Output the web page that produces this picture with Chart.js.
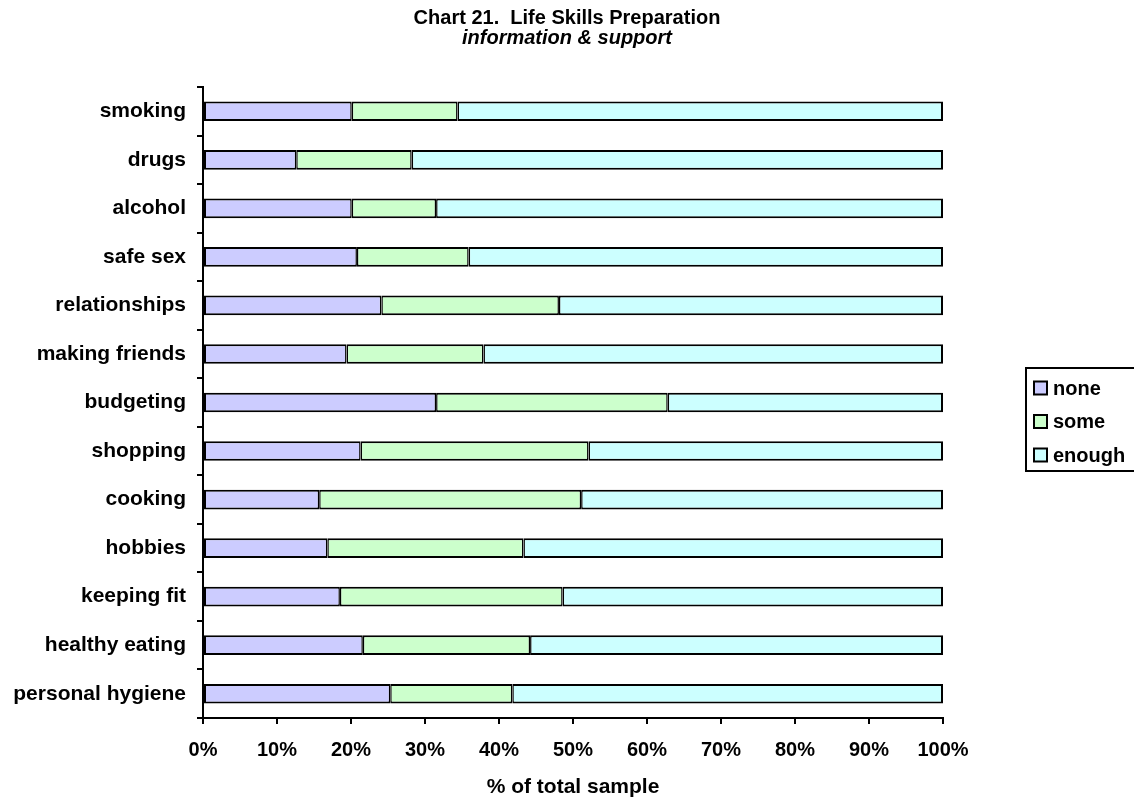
<!DOCTYPE html>
<html>
<head>
<meta charset="utf-8">
<script src="https://cdn.jsdelivr.net/npm/chart.js@4.4.1/dist/chart.umd.min.js"></script>
<style>
  html, body { margin: 0; padding: 0; background: #ffffff; }
  #wrap { width: 1134px; height: 798px; }
</style>
</head>
<body>
<div id="wrap"><canvas id="chart" width="1134" height="798"></canvas></div>
<script>
const categories = [
  'smoking', 'drugs', 'alcohol', 'safe sex', 'relationships', 'making friends',
  'budgeting', 'shopping', 'cooking', 'hobbies', 'keeping fit',
  'healthy eating', 'personal hygiene',
];
const seriesNames = ['none', 'some', 'enough'];
const noneValues = [20.1, 12.6, 20.1, 20.8, 24.1, 19.4, 31.5, 21.3, 15.7, 16.8, 18.5, 21.6, 25.3];
const someValues = [14.3, 15.6, 11.4, 15.1, 24.0, 18.5, 31.3, 30.8, 35.4, 26.5, 30.1, 22.6, 16.5];
const enoughValues = [65.6, 71.8, 68.5, 64.1, 51.9, 62.1, 37.2, 47.9, 48.9, 56.7, 51.4, 55.8, 58.2];
const xTicks = [0, 10, 20, 30, 40, 50, 60, 70, 80, 90, 100];

const colours = ['#ccccff', '#ccffcc', '#ccffff'];
const FONT = 'Arial, "Liberation Sans", sans-serif';

// legend drawn by hand so it gets the boxed look of the original
const boxLegend = {
  id: 'boxLegend',
  afterDraw(chart) {
    const ctx = chart.ctx;
    ctx.save();
    ctx.lineWidth = 2;
    ctx.strokeStyle = '#000';
    ctx.strokeRect(1026, 368, 112, 103);
    ctx.font = 'bold 20px ' + FONT;
    ctx.textBaseline = 'middle';
    chart.data.datasets.forEach((ds, i) => {
      const y = 388 + i * 33.5;
      ctx.fillStyle = ds.backgroundColor;
      ctx.fillRect(1034, y - 6.5, 13, 13);
      ctx.lineWidth = 2;
      ctx.strokeRect(1034, y - 6.5, 13, 13);
      ctx.fillStyle = '#000';
      ctx.fillText(ds.label, 1053, y + 1);
    });
    ctx.restore();
  },
};

const makeSet = (label, data, i) => ({
  label,
  data,
  backgroundColor: colours[i],
  borderColor: '#000',
  borderWidth: {
    top: 2,
    bottom: 2,
    left: i === 0 ? 2 : 1.5,
    right: i === 2 ? 2 : 1.5,
  },
  borderSkipped: false,
  barPercentage: 0.405,
  categoryPercentage: 1,
  yAxisID: 'y',
});

new Chart(document.getElementById('chart'), {
  type: 'bar',
  data: {
    labels: categories,
    datasets: [
      makeSet(seriesNames[0], noneValues, 0),
      makeSet(seriesNames[1], someValues, 1),
      makeSet(seriesNames[2], enoughValues, 2),
    ],
  },
  options: {
    indexAxis: 'y',
    responsive: false,
    animation: false,
    layout: {
      padding: 0,
    },
    plugins: {
      legend: { display: false },
      tooltip: { enabled: false },
      title: {
        display: true,
        text: 'Chart 21.  Life Skills Preparation',
        color: '#000',
        font: { family: FONT, size: 20, weight: 'bold', lineHeight: 1 },
        padding: { top: 8, bottom: 0 },
      },
      subtitle: {
        display: true,
        text: 'information & support',
        color: '#000',
        font: { family: FONT, size: 20, weight: 'bold', style: 'italic', lineHeight: 1 },
        padding: { top: 0, bottom: 39 },
      },
    },
    scales: {
      x: {
        stacked: true,
        min: 0,
        max: 100,
        afterBuildTicks: (axis) => {
          axis.ticks = xTicks.map((v) => ({ value: v }));
        },
        ticks: {
          callback: (v) => v + '%',
          color: '#000',
          font: { family: FONT, size: 20, weight: 'bold', lineHeight: 1 },
          padding: 16,
          maxRotation: 0,
        },
        grid: {
          drawOnChartArea: false,
          drawTicks: true,
          tickLength: 6,
          color: '#000',
          lineWidth: 2,
        },
        border: { color: '#000', width: 2 },
        title: {
          display: true,
          text: '% of total sample',
          color: '#000',
          font: { family: FONT, size: 21, weight: 'bold', lineHeight: 1 },
          padding: { top: 1, bottom: 0 },
        },
      },
      y: {
        stacked: true,
        afterFit: (axis) => {
          axis.width = 203;
        },
        ticks: {
          color: '#000',
          font: { family: FONT, size: 21, weight: 'bold' },
          padding: 11,
        },
        grid: {
          drawOnChartArea: false,
          drawTicks: true,
          tickLength: 6,
          color: '#000',
          lineWidth: 2,
        },
        border: { color: '#000', width: 2 },
      },
      // empty strip on the right that holds the legend
      legendSpace: {
        type: 'linear',
        position: 'right',
        afterFit: (axis) => {
          axis.width = 191;
        },
        ticks: { display: false },
        grid: { display: false },
        border: { display: false },
      },
    },
  },
  plugins: [boxLegend],
});
</script>
</body>
</html>
